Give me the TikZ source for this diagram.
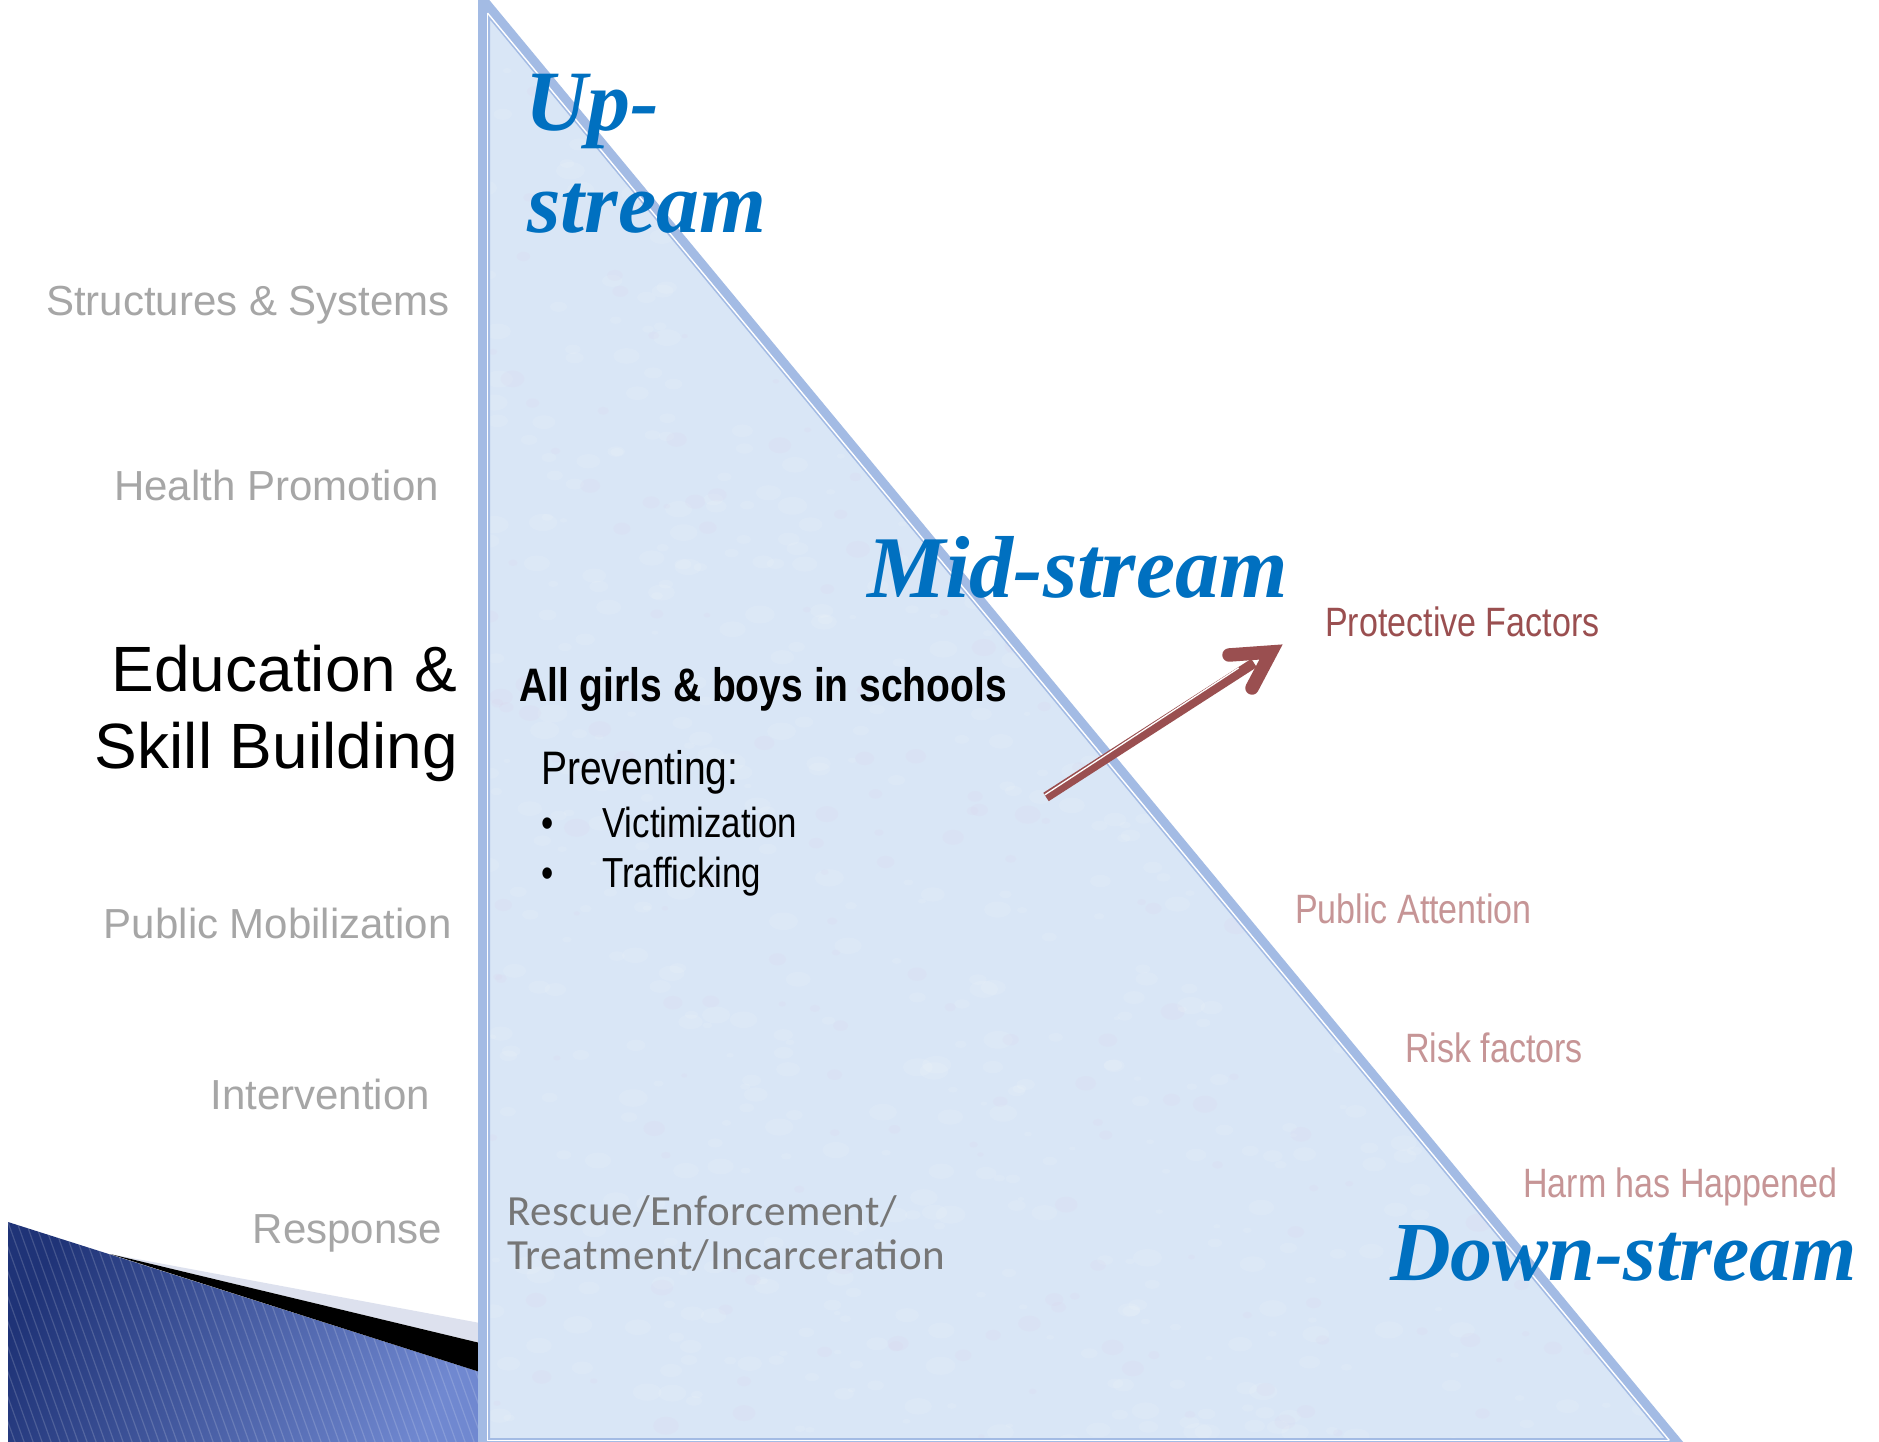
\documentclass[tikz,border=0pt]{standalone}
\usepackage{fontspec}
\newfontfamily\arialf{Liberation Sans}
\newfontfamily\narrowf{Liberation Sans}[FakeStretch=0.83]
\newfontfamily\calf{Carlito}[LetterSpace=1.2]
\newfontfamily\brushf{Liberation Serif}
\definecolor{lgray}{HTML}{A6A6A6}
\definecolor{dgray}{HTML}{767676}
\definecolor{sblue}{HTML}{0070C0}
\definecolor{tfill}{HTML}{D9E6F6}
\definecolor{tborder}{HTML}{A3BBE4}
\definecolor{maroon}{HTML}{9A4F50}
\definecolor{lmaroon}{HTML}{C69596}
\definecolor{navyA}{HTML}{1F3377}
\definecolor{navyB}{HTML}{7088D0}
\definecolor{wedgegray}{HTML}{DDE1EE}
\tikzset{
  graylbl/.style={anchor=base east, inner sep=0pt, text=lgray, font=\arialf\fontsize{42}{50}\selectfont},
  biglbl/.style={anchor=base east, inner sep=0pt, text=black, font=\arialf\fontsize{64}{74}\selectfont},
  streamlbl/.style={anchor=base west, inner sep=0pt, text=sblue},
  bodytxt/.style={anchor=base west, inner sep=0pt, text=black},
  factorlbl/.style={anchor=base west, inner sep=0pt, text=lmaroon, font=\narrowf\fontsize{41}{48}\selectfont},
  resclbl/.style={anchor=base west, inner sep=0pt, text=dgray, font=\calf\fontsize{43}{50}\selectfont},
  shaftline/.style={draw=maroon, line width=10pt, line cap=butt},
  shaftgap/.style={draw=white, line width=1.3pt, line cap=butt},
  headline/.style={draw=maroon, line width=13.5pt, line cap=round, line join=miter},
}
\begin{document}
\begin{tikzpicture}[x=1pt,y=-1pt]
\useasboundingbox (0,0) rectangle (1879,1442);
\fill[white] (0,0) rectangle (1879,1442);

% bottom-left blue corner
\begin{scope}
  \clip (8,1222) -- (480,1372) -- (480,1442) -- (8,1442) -- cycle;
  \shade[left color=navyA, right color=navyB, shading angle=65] (0,1200) rectangle (490,1450);
  \foreach \i in {-20,...,60}
    \draw[white, opacity=0.16, line width=1.2pt] ({\i*9},1200) -- ({\i*9+90},1450);
\end{scope}
\fill[wedgegray] (110,1254) -- (480,1323) -- (480,1343) -- cycle;
\fill[black] (110,1254) -- (480,1343) -- (480,1372) -- cycle;

% triangle
\coordinate (A) at (484,3);
\coordinate (B) at (484,1444);
\coordinate (C) at (1677,1444);
\fill[tfill] (A) -- (B) -- (C) -- cycle;
\begin{scope}
  \clip (A) -- (B) -- (C) -- cycle;
  \pgfmathsetseed{7}
  \foreach \k in {1,...,900} {
    \pgfmathsetmacro{\px}{484+rnd*1200}
    \pgfmathsetmacro{\py}{rnd*1442}
    \pgfmathsetmacro{\pr}{3+rnd*12}
    \fill[white, opacity=0.10] (\px,\py) ellipse ({\pr} and {\pr*0.6});
  }
  \foreach \k in {1,...,300} {
    \pgfmathsetmacro{\px}{484+rnd*1200}
    \pgfmathsetmacro{\py}{rnd*1442}
    \pgfmathsetmacro{\pr}{3+rnd*10}
    \fill[violet!30, opacity=0.06] (\px,\py) ellipse ({\pr} and {\pr*0.7});
  }
\end{scope}
\draw[tborder, line width=12pt, line join=miter] (A) -- (B) -- (C) -- cycle;
\coordinate (A2) at (487.5,13);
\coordinate (B2) at (487.5,1440.5);
\coordinate (C2) at (1669.4,1440.5);
\draw[white, line width=1.4pt] (A2) -- (B2) -- (C2);
\draw[white, line width=1.4pt] (A2) -- (C2);

% left column
\node[graylbl] (ss) at (450,315) {Structures \& Systems};
\node[graylbl] (hp) at (439,500) {Health Promotion};
\node[biglbl] (ed) at (457,691) {Education \&};
\node[biglbl] (sk) at (458,768) {Skill Building};
\node[graylbl] (pm) at (452,938) {Public Mobilization};
\node[graylbl] (iv) at (430,1109) {Intervention};
\node[graylbl] (rs) at (442,1243) {Response};

% stream labels
\node[streamlbl, font=\brushf\bfseries\itshape\fontsize{86}{100}\selectfont] (up1) at (525,131) {Up-};
\node[streamlbl, font=\brushf\bfseries\itshape\fontsize{86}{100}\selectfont] (up2) at (527,233) {stream};
\node[streamlbl, font=\brushf\bfseries\itshape\fontsize{88}{100}\selectfont] (mid) at (867,597) {Mid-stream};
\node[streamlbl, font=\brushf\bfseries\itshape\fontsize{84}{100}\selectfont] (down) at (1390,1280) {Down-stream};

% body text in triangle
\node[bodytxt, font=\narrowf\bfseries\fontsize{47}{56}\selectfont] (all) at (519,701) {All girls \& boys in schools};
\node[bodytxt, font=\narrowf\fontsize{47}{56}\selectfont] (prev) at (541,784) {Preventing:};
\node[bodytxt, font=\narrowf\fontsize{42}{50}\selectfont] (b1) at (541,837) {•};
\node[bodytxt, font=\narrowf\fontsize{42}{50}\selectfont] (vic) at (602,837) {Victimization};
\node[bodytxt, font=\narrowf\fontsize{42}{50}\selectfont] (b2) at (541,887) {•};
\node[bodytxt, font=\narrowf\fontsize{42}{50}\selectfont] (traf) at (602,887) {Trafficking};

\node[resclbl] (res1) at (507,1225) {Rescue/Enforcement/};
\node[resclbl] (res2) at (507,1269) {Treatment/Incarceration};

% right labels
\node[factorlbl, text=maroon] (pf) at (1325,636) {Protective Factors};
\node[factorlbl] (pa) at (1295,923) {Public Attention};
\node[factorlbl] (rf) at (1405,1062) {Risk factors};
\node[factorlbl] (hh) at (1523,1197) {Harm has Happened};

% arrow
\coordinate (tail) at (1046,797);
\coordinate (shaftend) at (1254,663);
\coordinate (gapend) at (1240,670);
\coordinate (barbL) at (1229,655);
\coordinate (headv) at (1271,652);
\coordinate (barbR) at (1252,688);
\draw[shaftline] (tail) -- (shaftend);
\draw[shaftgap] ([shift={(-1.3,-2.1)}]tail) -- ([shift={(-1.3,-2.1)}]gapend);
\draw[headline] (barbL) -- (headv) -- (barbR);
\end{tikzpicture}
\end{document}
